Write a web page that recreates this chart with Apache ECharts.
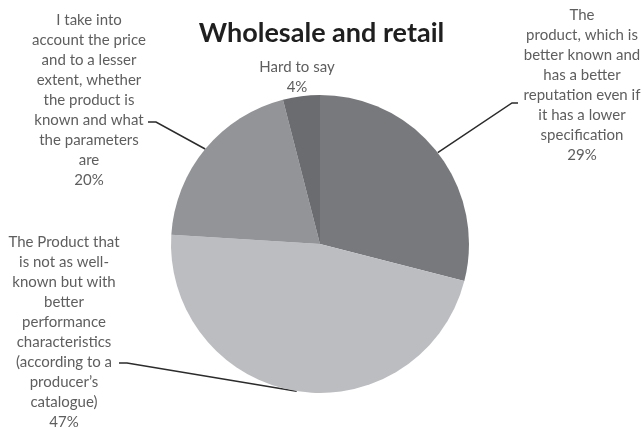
<!DOCTYPE html>
<html>
<head>
<meta charset="utf-8">
<script src="https://cdn.jsdelivr.net/npm/echarts@6/dist/echarts.min.js"></script>
<style>
  html, body { margin: 0; padding: 0; background: #ffffff; }
  #chart { width: 643px; height: 428px; }
</style>
</head>
<body>
<div id="chart"></div>
<script>
// Survey answers, clockwise from twelve o'clock
const categories = [
  'The\nproduct, which is\nbetter known and\nhas a better\nreputation even if\nit has a lower\nspecification',
  'The Product that\nis not as well-\nknown but with\nbetter\nperformance\ncharacteristics\n(according to a\nproducer\u2019s\ncatalogue)',
  'I take into\naccount the price\nand to a lesser\nextent, whether\nthe product is\nknown and what\nthe parameters\nare',
  'Hard to say'
];
const shares = [29, 47, 20, 4];
const sliceColors = ['#78797d', '#bcbdc1', '#939498', '#6b6c70'];

// Label block placement (centre x, top y) and where each leader line bends and ends
const labelPlacement = [
  { x: 582, y: 5,   bend: [512, 103], end: [518, 103] },
  { x: 64,  y: 232, bend: [127, 363], end: [119, 363] },
  { x: 89,  y: 10,  bend: [156, 122], end: [148, 122] },
  { x: 297, y: 57,  bend: null,       end: null }
];

const textFont = 'Lato, "Open Sans", sans-serif';

const chart = echarts.init(document.getElementById('chart'), null, { renderer: 'canvas' });

chart.setOption({
  animation: false,
  backgroundColor: '#ffffff',
  title: {
    text: 'Wholesale and retail',
    left: 'center',
    top: 15,
    textStyle: { fontFamily: textFont, fontWeight: 'bold', fontSize: 27, color: '#1f1f1f' }
  },
  series: [{
    type: 'pie',
    center: [320, 244],
    radius: 149,
    startAngle: 90,
    clockwise: true,
    silent: true,
    data: categories.map((name, i) => ({
      name: name,
      value: shares[i],
      itemStyle: { color: sliceColors[i] },
      labelLine: { show: labelPlacement[i].end !== null }
    })),
    itemStyle: { borderWidth: 0 },
    label: {
      show: true,
      position: 'outside',
      formatter: '{b}\n{c}%',
      fontFamily: textFont,
      fontSize: 15,
      lineHeight: 20,
      color: '#5e5e5e',
      align: 'center'
    },
    labelLine: {
      show: true,
      lineStyle: { color: '#2b2b2b', width: 1.5 }
    },
    labelLayout: function (params) {
      const p = labelPlacement[params.dataIndex];
      const out = { x: p.x, y: p.y, align: 'center', verticalAlign: 'top', hideOverlap: false };
      if (p.end && params.labelLinePoints) {
        out.labelLinePoints = [params.labelLinePoints[0], p.bend, p.end];
      }
      return out;
    }
  }]
});
</script>
</body>
</html>
